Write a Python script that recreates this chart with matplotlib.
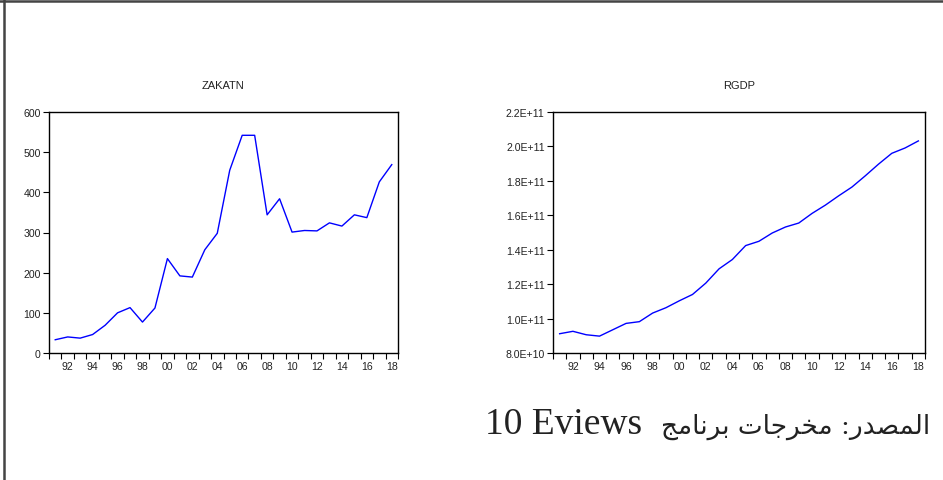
import matplotlib
matplotlib.use("Agg")
import matplotlib.pyplot as plt
from matplotlib.lines import Line2D

# Annual observations 1991-2018
years = list(range(1991, 2019))

zakatn = [33, 40, 37, 46, 69, 100, 113, 77, 112, 235,
          192, 189, 257, 298, 455, 542, 542, 344, 384, 301,
          305, 304, 324, 316, 344, 337, 426, 469]

rgdp = [9.12e10, 9.26e10, 9.06e10, 8.98e10, 9.35e10, 9.72e10, 9.82e10, 1.032e11,
        1.063e11, 1.103e11, 1.140e11, 1.206e11, 1.289e11, 1.343e11, 1.424e11, 1.449e11,
        1.497e11, 1.532e11, 1.555e11, 1.611e11, 1.659e11, 1.713e11, 1.764e11, 1.829e11,
        1.897e11, 1.960e11, 1.991e11, 2.032e11]

zakatn_ticks = [0, 100, 200, 300, 400, 500, 600]
zakatn_ticklabels = ["0", "100", "200", "300", "400", "500", "600"]
rgdp_ticks = [8.0e10, 1.0e11, 1.2e11, 1.4e11, 1.6e11, 1.8e11, 2.0e11, 2.2e11]
rgdp_ticklabels = ["8.0E+10", "1.0E+11", "1.2E+11", "1.4E+11",
                   "1.6E+11", "1.8E+11", "2.0E+11", "2.2E+11"]

year_labels = [f"{y % 100:02d}" for y in years if y % 2 == 0]
label_years = [y for y in years if y % 2 == 0]

W, H = 943, 481
fig = plt.figure(figsize=(W / 100, H / 100), dpi=100)
fig.patch.set_facecolor("white")

# page frame: top and left rules
fig.add_artist(Line2D([3.5 / W, 3.5 / W], [0, 1], color="#444444", lw=1.8,
                      transform=fig.transFigure))
fig.add_artist(Line2D([0, 1], [1 - 1.5 / H, 1 - 1.5 / H], color="#444444", lw=1.8,
                      transform=fig.transFigure))

tick_font = dict(family="Liberation Sans", size=7.6, color="#222222")


def panel(rect, values, yticks, yticklabels, ylim, title):
    ax = fig.add_axes(rect)
    ax.plot(years, values, color="#0000ff", lw=1.0)
    ax.set_xlim(1990.5, 2018.5)
    ax.set_ylim(*ylim)
    # minor ticks at year boundaries, labels on even-year observations
    ax.set_xticks([y + 0.5 for y in range(1990, 2019)], minor=True)
    ax.set_xticks(label_years)
    ax.set_xticklabels(year_labels, **tick_font)
    ax.tick_params(axis="x", which="major", length=0, pad=6)
    ax.tick_params(axis="x", which="minor", length=4, width=0.8, direction="out")
    ax.set_yticks(yticks)
    ax.set_yticklabels(yticklabels, **tick_font)
    ax.tick_params(axis="y", length=4, width=0.8, direction="out", pad=2)
    for s in ax.spines.values():
        s.set_linewidth(1.0)
        s.set_color("black")
    ax.text(0.5, 1.09, title, transform=ax.transAxes, ha="center", va="bottom",
            family="Liberation Sans", size=8, color="#222222")
    return ax


panel([49 / W, 1 - 354 / H, 349 / W, 241 / H], zakatn,
      zakatn_ticks, zakatn_ticklabels, (0, 600), "ZAKATN")
panel([553 / W, 1 - 354 / H, 372 / W, 241 / H], rgdp,
      rgdp_ticks, rgdp_ticklabels, (8.0e10, 2.2e11), "RGDP")

# source note (Arabic written in visual order with contextual letter forms)
word_source = "\uFEAD\uFEAA\uFEBC\uFEE4\uFEDF\uFE8D"      # المصدر
word_outputs = "\uFE95\uFE8E\uFE9F\uFEAE\uFEA8\uFEE3"     # مخرجات
word_program = "\uFE9E\uFEE3\uFE8E\uFEE7\uFEAE\uFE91"     # برنامج
arabic_note = word_program + " " + word_outputs + " :" + word_source

fig.text(485 / W, 1 - 434 / H, "10 Eviews", ha="left", va="baseline",
         family="Liberation Serif", size=27, color="#222222")
fig.text(930 / W, 1 - 434 / H, arabic_note, ha="right", va="baseline",
         family=["DejaVu Serif", "DejaVu Sans"], size=19, color="#222222")

fig.savefig("out.png", dpi=100)
